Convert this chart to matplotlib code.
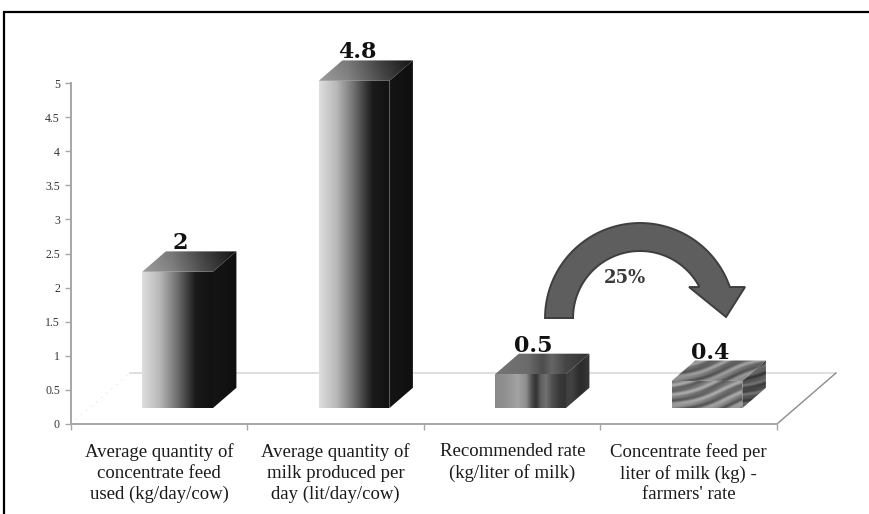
import numpy as np
import matplotlib
matplotlib.use("Agg")
import matplotlib.pyplot as plt
import matplotlib.transforms as mtransforms
from matplotlib.patches import Polygon, Rectangle, PathPatch
from matplotlib.path import Path

# ---- data -------------------------------------------------------------
categories = [
    "Average quantity of\nconcentrate feed\nused (kg/day/cow)",
    "Average quantity of\nmilk produced per\nday (lit/day/cow)",
    "Recommended rate\n(kg/liter of milk)",
    "Concentrate feed per\nliter of milk (kg) -\nfarmers' rate",
]
values = [2, 4.8, 0.5, 0.4]
value_labels = ["2", "4.8", "0.5", "0.4"]
bar_styles = ["gloss", "gloss", "metal", "wood"]
y_ticks = [0, 0.5, 1, 1.5, 2, 2.5, 3, 3.5, 4, 4.5, 5]
y_tick_labels = ["0", "0.5", "1", "1.5", "2", "2.5", "3", "3.5", "4", "4.5", "5"]
change_label = "25%"

# ---- 3-D projection of the floor (depth expressed in data units) -------
DEPTH_DX = 0.334
DEPTH_DY = 0.748
BAR_W = 0.4
BAR_D0, BAR_D1 = 0.31, 0.71

SERIF = ["Liberation Serif", "DejaVu Serif"]
NUM_FONT = ["DejaVu Serif"]

W, H = 870, 514
fig = plt.figure(figsize=(W / 100, H / 100), dpi=100)
fig.patch.set_facecolor("white")

px_per_x = 176.5
px_per_y = 68.2
xmax, ymax = 4.45, 5.9
ax_left, ax_bottom = 71, H - 424
ax = fig.add_axes([ax_left / W, ax_bottom / H, xmax * px_per_x / W, ymax * px_per_y / H])
ax.set_xlim(0, xmax)
ax.set_ylim(0, ymax)
ax.set_facecolor("none")


def proj(x, y, d):
    return (x + d * DEPTH_DX, y + d * DEPTH_DY)


def interp(u, stops):
    s = np.array(stops)
    return np.interp(u, s[:, 0], s[:, 1])


def shade(style, face, u, v, px, py):
    """Grey level for a face; u, v in [0, 1] across its bounding box, px/py in pixels."""
    if style == "gloss":
        if face == "front":
            return interp(u, [(0, .87), (.25, .72), (.5, .43), (.66, .22), (.76, .1), (1, .07)])
        if face == "side":
            return 0.08 - 0.02 * u
        return interp(u, [(0, .62), (.3, .52), (.65, .3), (1, .12)]) - 0.05 * v
    if style == "metal":
        if face == "front":
            return interp(u, [(0, .54), (.15, .57), (.32, .64), (.44, .55), (.52, .3), (.58, .2),
                              (.65, .38), (.72, .44), (.82, .3), (.92, .22), (1, .2)])
        if face == "side":
            return 0.24 - 0.06 * u + 0.03 * np.sin(px / 3.0)
        return interp(u, [(0, .46), (.35, .42), (.5, .3), (.6, .4), (.75, .27), (1, .2)])
    # wood-like diagonal streaks
    phase = 2 * np.pi * (py / 11.0 - px * 0.3 / 11.0) + 1.8 * np.sin(px / 19.0 + py / 30.0)
    base = {"front": .5, "top": .47, "side": .33}[face]
    amp = {"front": .14, "top": .13, "side": .09}[face]
    return base + amp * np.sin(phase) + 0.04 * np.sin(2.3 * phase + 1.0 + px / 15.0)


def draw_face(verts, style, face, z):
    verts = np.asarray(verts)
    x0, y0 = verts.min(axis=0)
    x1, y1 = verts.max(axis=0)
    nx = max(int((x1 - x0) * px_per_x * 2), 4)
    ny = max(int((y1 - y0) * px_per_y * 2), 4)
    u = np.linspace(0, 1, nx)[None, :].repeat(ny, axis=0)
    v = np.linspace(0, 1, ny)[:, None].repeat(nx, axis=1)
    px = u * (x1 - x0) * px_per_x
    py = v * (y1 - y0) * px_per_y
    g = np.clip(shade(style, face, u, v, px, py), 0, 1)
    img = np.dstack([g, g, g])
    clip = Polygon(verts, closed=True, transform=ax.transData, facecolor="none", edgecolor="none")
    im = ax.imshow(img, extent=[x0, x1, y0, y1], origin="lower", aspect="auto",
                   interpolation="bilinear", zorder=z)
    im.set_clip_path(clip)


# ---- floor / walls ------------------------------------------------------
n = len(categories)
ax.plot([DEPTH_DX, n + DEPTH_DX], [DEPTH_DY, DEPTH_DY], color="#d9d9d9", lw=1.2, zorder=1)
ax.plot([0, DEPTH_DX], [0, DEPTH_DY], color="#e2e2e2", lw=0.8, ls=(0, (1, 5)), zorder=1)
ax.plot([n, n + DEPTH_DX], [0, DEPTH_DY], color="#8c8c8c", lw=1.0, zorder=1)

# ---- bars -----------------------------------------------------------------
for i, (val, style) in enumerate(zip(values, bar_styles)):
    xa = i + 0.5 - BAR_W / 2
    xb = i + 0.5 + BAR_W / 2
    side = [proj(xb, 0, BAR_D0), proj(xb, 0, BAR_D1), proj(xb, val, BAR_D1), proj(xb, val, BAR_D0)]
    top = [proj(xa, val, BAR_D0), proj(xb, val, BAR_D0), proj(xb, val, BAR_D1), proj(xa, val, BAR_D1)]
    front = [proj(xa, 0, BAR_D0), proj(xb, 0, BAR_D0), proj(xb, val, BAR_D0), proj(xa, val, BAR_D0)]
    draw_face(side, style, "side", 3)
    draw_face(top, style, "top", 3)
    draw_face(front, style, "front", 4)
    cx, _ = proj(i + 0.5, 0, BAR_D0)
    ax.annotate(value_labels[i], xy=(cx, val + BAR_D1 * DEPTH_DY), xytext=(3, 2),
                textcoords="offset pixels", ha="center", va="baseline",
                fontsize=16, fontweight="bold", family=NUM_FONT, color="#111111", zorder=6)

ax.set_xlim(0, xmax)
ax.set_ylim(0, ymax)

# ---- axes -----------------------------------------------------------------
for s in ("top", "right"):
    ax.spines[s].set_visible(False)
for s in ("left", "bottom"):
    ax.spines[s].set_color("#a6a6a6")
    ax.spines[s].set_linewidth(1.4)
ax.spines["left"].set_bounds(0, 5)
ax.spines["bottom"].set_bounds(0, n)
ax.set_yticks(y_ticks)
ax.set_yticklabels(y_tick_labels, family=SERIF, fontsize=8.5, color="#333333")
ax.set_xticks(range(n + 1))
ax.set_xticklabels([""] * (n + 1))
ax.tick_params(axis="both", direction="out", length=4, width=1, color="#a6a6a6")
ax.tick_params(axis="y", pad=4)

for i, lab in enumerate(categories):
    ax.annotate(lab, xy=(i + 0.5, 0), xytext=(0, -19), textcoords="offset pixels",
                ha="center", va="top", multialignment="center", fontsize=13.5,
                family=SERIF, color="#1a1a1a", linespacing=1.28, annotation_clip=False)

# ---- curved arrow between the two rates ----------------------------------
arrow_center = (3.224, 1.554)
r_out, r_in, head_y = 95.0, 67.0, 31.0
a_out = np.degrees(np.arcsin(head_y / r_out))
a_in = np.degrees(np.arcsin(head_y / r_in))
t_out = np.radians(np.linspace(180, a_out, 80))
t_in = np.radians(np.linspace(a_in, 180, 80))
pts = [(r_out * np.cos(t), r_out * np.sin(t)) for t in t_out]
pts += [(105.0, head_y), (86.0, 1.0), (49.0, head_y)]
pts += [(r_in * np.cos(t), r_in * np.sin(t)) for t in t_in]
pts.append(pts[0])
codes = [Path.MOVETO] + [Path.LINETO] * (len(pts) - 2) + [Path.CLOSEPOLY]
arrow_tr = mtransforms.ScaledTranslation(arrow_center[0], arrow_center[1], ax.transData)
arrow = PathPatch(Path(pts, codes), transform=mtransforms.Affine2D() + arrow_tr,
                  facecolor="#5e5e5e", edgecolor="#3e3e3e", lw=1.4, zorder=7)
ax.add_artist(arrow)
ax.annotate(change_label, xy=arrow_center, xytext=(-15, 40), textcoords="offset pixels",
            ha="center", va="center", fontsize=13, fontweight="bold", family=NUM_FONT,
            color="#3a3a3a", zorder=8)

# ---- frame around the chart area -----------------------------------------
fig.add_artist(Rectangle((4.5 / W, -0.05), 1.2, (H - 12) / H + 0.05, transform=fig.transFigure,
                         facecolor="none", edgecolor="black", lw=1.6))

fig.savefig("out.png", dpi=100)
